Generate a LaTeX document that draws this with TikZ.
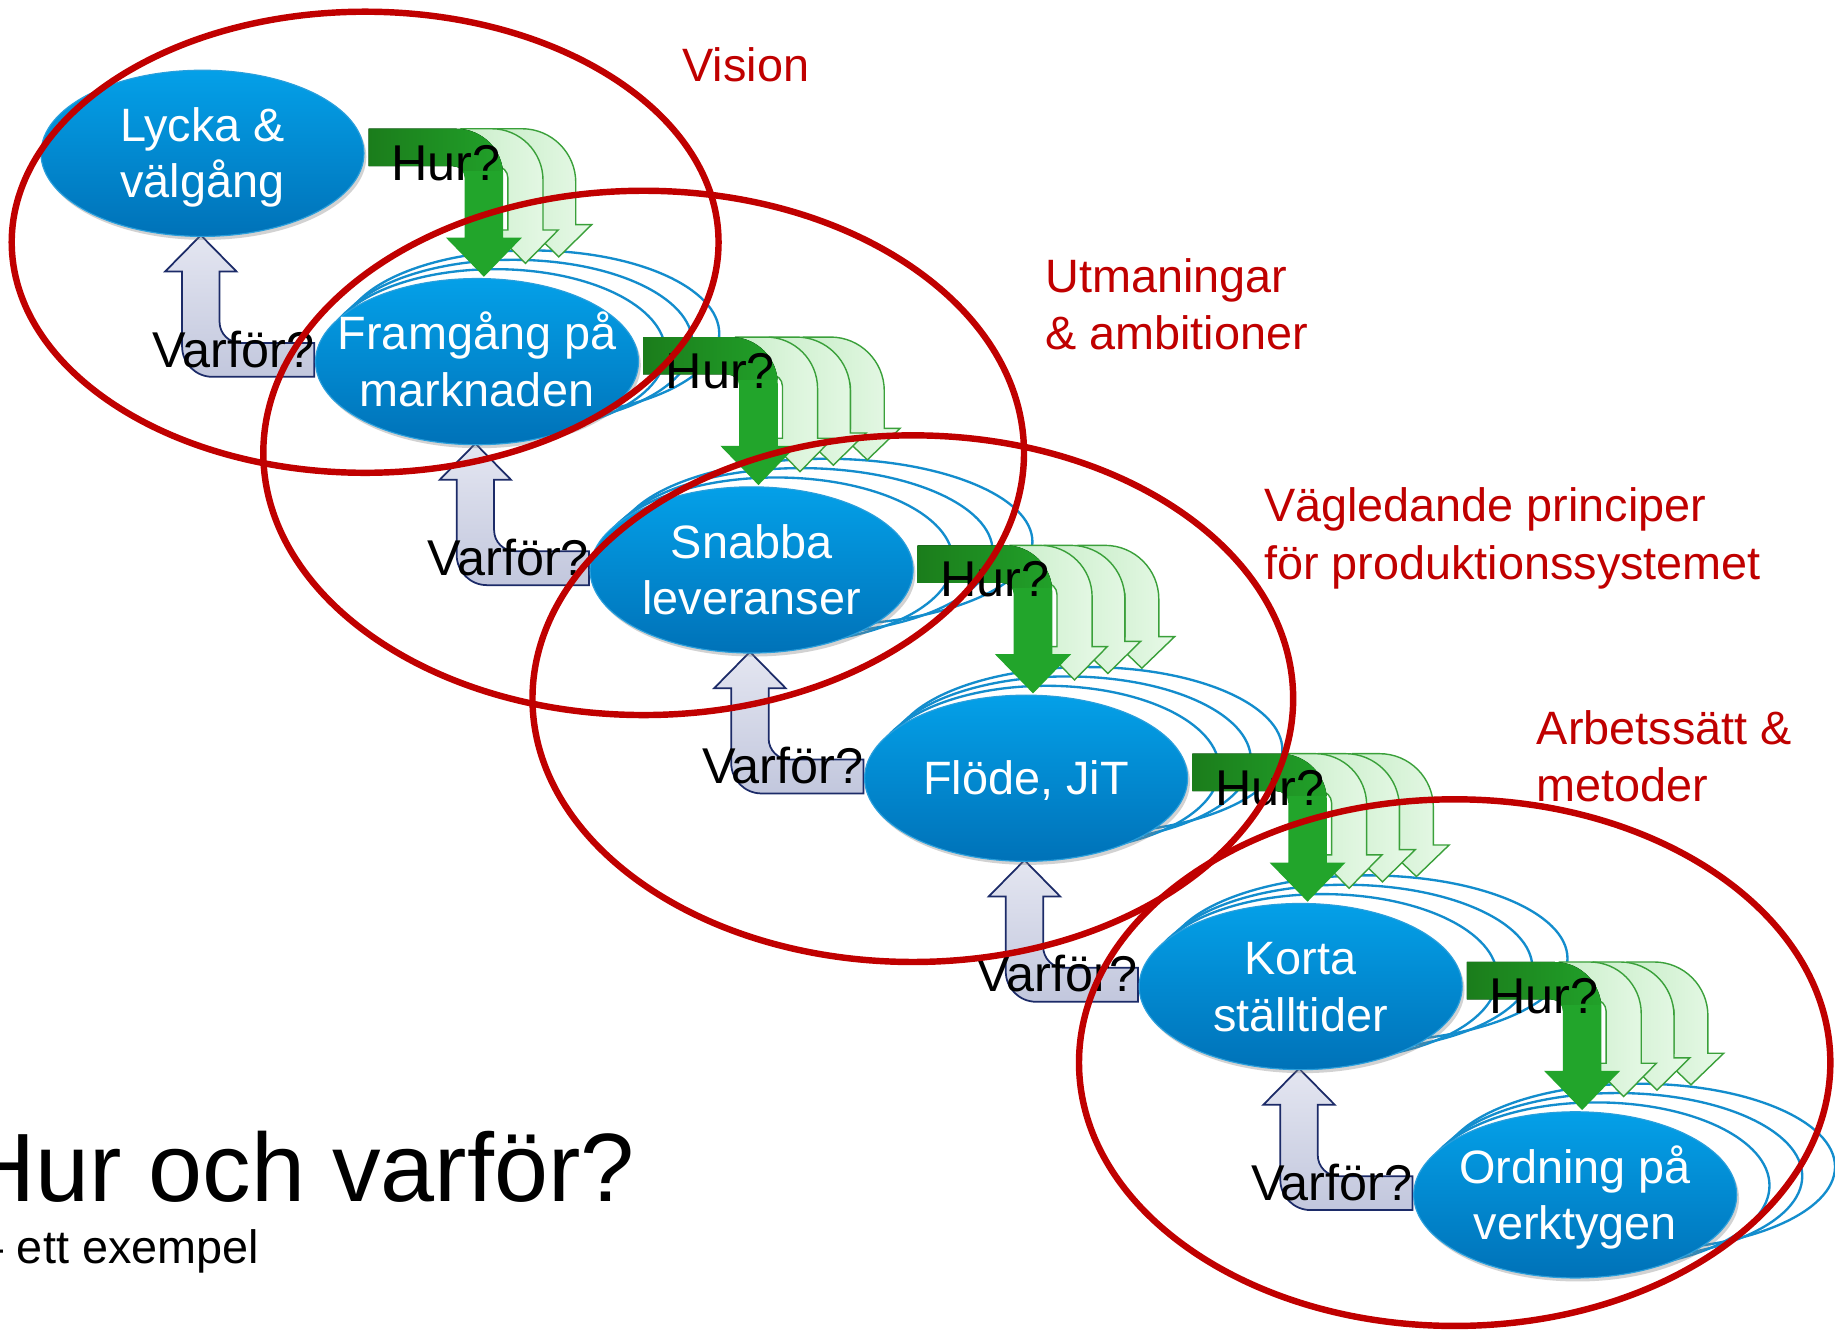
\documentclass[tikz,border=0pt]{standalone}
\usepackage{fontspec}
\setmainfont{Liberation Sans}
\usetikzlibrary{shapes.geometric,shadows}
\pgfdeclarelayer{back}
\pgfdeclarelayer{mid}
\pgfdeclarelayer{front}
\pgfsetlayers{back,mid,main,front}
\definecolor{redc}{HTML}{C00000}
\definecolor{bluetop}{HTML}{04A0E8}
\definecolor{bluebot}{HTML}{0072B8}
\definecolor{bluerim}{HTML}{2A9FDC}
\definecolor{echoblue}{HTML}{138DCD}
\definecolor{hurdark}{HTML}{1B7C1B}
\definecolor{hurbright}{HTML}{22A52B}
\definecolor{copyL}{HTML}{C9EEC9}
\definecolor{copyR}{HTML}{E8F9E8}
\definecolor{copyline}{HTML}{3AA03A}
\definecolor{varfill}{HTML}{E4E6F1}
\definecolor{varfilltwo}{HTML}{C2C7DD}
\definecolor{varline}{HTML}{1C2B68}

% green "Hur?" arrow outline, relative to the upper node
% #1 node, #2 band start x, #3 shaft left x, #4 shaft width, #5 head base y, #6 head half width, #7 tip y
\newcommand\hurshape[7]{%
 ([shift={(#2,-21)}]#1.center) -- ([shift={({#3+#4-\hurRo},-21)}]#1.center)
 .. controls ([shift={({#3+#4-0.448*\hurRo},-21)}]#1.center) and ([shift={({#3+#4},{-21+0.448*\hurRo})}]#1.center) .. ([shift={({#3+#4},{-21+\hurRo})}]#1.center)
 -- ([shift={({#3+#4},#5)}]#1.center) -- ([shift={({#3+#4/2+#6},#5)}]#1.center)
 -- ([shift={({#3+#4/2},#7)}]#1.center) -- ([shift={({#3+#4/2-#6},#5)}]#1.center)
 -- ([shift={(#3,#5)}]#1.center) -- ([shift={(#3,{-21+\hurT+10})}]#1.center)
 .. controls ([shift={(#3,{-21+\hurT+4.48})}]#1.center) and ([shift={({#3-4.48},{-21+\hurT})}]#1.center) .. ([shift={({#3-10},{-21+\hurT})}]#1.center)
 -- ([shift={(#2,{-21+\hurT})}]#1.center) -- cycle}

\newcommand\hurarrow[2]{%
 \ifnum#2>2
   \def\hurT{32}\def\hurRo{46}%
   \path[copyarrow] \hurshape{#1}{279}{319}{29}{57}{28}{84};
 \fi
 \def\hurT{32}\def\hurRo{46}%
 \path[copyarrow] \hurshape{#1}{250}{290}{29}{61}{28}{88.5};
 \def\hurT{32}\def\hurRo{44}%
 \path[copyarrow] \hurshape{#1}{221}{261}{30}{65.5}{28}{94};
 \def\hurT{32}\def\hurRo{40}%
 \fill[hurbright] \hurshape{#1}{142}{224}{33}{72}{32.5}{105.5};
 \begin{scope}
  \clip \hurshape{#1}{142}{224}{33}{72}{32.5}{105.5};
  \fill[left color=hurdark, middle color=hurdark, right color=hurbright] ([shift={(140,-25)}]#1.center) rectangle ([shift={(270,15)}]#1.center);
 \end{scope}}

% "Varför?" arrow outline, relative to the lower node
\newcommand\varpath[1]{%
 ([shift={(-236,-108)}]#1.center) -- ([shift={(-205.5,-77)}]#1.center) -- ([shift={(-220,-77)}]#1.center)
 -- ([shift={(-220,-34)}]#1.center) .. controls ([shift={(-220,-24)}]#1.center) and ([shift={(-212,-16)}]#1.center) .. ([shift={(-202,-16)}]#1.center)
 -- ([shift={(-139,-16)}]#1.center) -- ([shift={(-139,13)}]#1.center) -- ([shift={(-226,13)}]#1.center)
 .. controls ([shift={(-240.4,13)}]#1.center) and ([shift={(-252,1.4)}]#1.center) .. ([shift={(-252,-13)}]#1.center)
 -- ([shift={(-252,-77)}]#1.center) -- ([shift={(-266.5,-77)}]#1.center) -- cycle}

% stacked outline copies behind a node: shifted up and widened to the right
\newcommand\echoes[2]{%
 \foreach \k in {3,2,1}{%
  \draw[echoline] ([shift={({(#2+4)*\k},{-8*\k})}]#1.center) ellipse [x radius={138+(#2-4)*\k}, y radius=71];}}

\tikzset{
 bluenode/.style={ellipse, minimum width=276pt, minimum height=142pt, inner sep=0pt,
   top color=bluetop, bottom color=bluebot, draw=bluerim, line width=1pt,
   drop shadow={shadow xshift=2pt, shadow yshift=-3pt, opacity=0.35}},
 btext/.style={anchor=base, inner sep=0pt, text=white, font=\fontsize{40}{48}\selectfont},
 qtext/.style={anchor=base, inner sep=0pt, text=black, font=\fontsize{43}{48}\selectfont},
 redlabel/.style={anchor=base west, inner sep=0pt, text=redc, font=\fontsize{40}{48}\selectfont},
 redring/.style={draw=redc, line width=5.5pt},
 echoline/.style={draw=echoblue, line width=2pt},
 copyarrow/.style={left color=copyL, right color=copyR, draw=copyline, line width=1.2pt},
 vararrow/.style={top color=varfill, bottom color=varfilltwo, draw=varline, line width=1.5pt},
}

\begin{document}
\begin{tikzpicture}[x=1pt, y=-1pt]
\useasboundingbox (0,0) rectangle (1568,1138);
\begin{pgfonlayer}{back}
 \fill[white] (0,0) rectangle (1568,1138);
\end{pgfonlayer}

% blue ellipses
\node[bluenode] (A) at (173,131) {};
\node[bluenode] (B) at (407.6,309) {};
\node[bluenode] (C) at (642.2,487) {};
\node[bluenode] (D) at (876.8,665) {};
\node[bluenode] (E) at (1111.4,843) {};
\node[bluenode] (F) at (1346,1021) {};

% ellipse texts
\node[btext] (tA1) at ([shift={(0,-10)}]A.center) {Lycka \&};
\node[btext] (tA2) at ([shift={(0,38)}]A.center) {välgång};
\node[btext] (tB1) at ([shift={(0,-10)}]B.center) {Framgång på};
\node[btext] (tB2) at ([shift={(0,38)}]B.center) {marknaden};
\node[btext] (tC1) at ([shift={(0,-10)}]C.center) {Snabba};
\node[btext] (tC2) at ([shift={(0,38)}]C.center) {leveranser};
\node[btext] (tD1) at ([shift={(0,14)}]D.center) {Flöde, JiT};
\node[btext] (tE1) at ([shift={(0,-10)}]E.center) {Korta};
\node[btext] (tE2) at ([shift={(0,38)}]E.center) {ställtider};
\node[btext] (tF1) at ([shift={(0,-10)}]F.center) {Ordning på};
\node[btext] (tF2) at ([shift={(0,38)}]F.center) {verktygen};

% echo outlines behind the lower ellipses
\begin{pgfonlayer}{back}
 \echoes{B}{11.5}
 \echoes{C}{17}
 \echoes{D}{13.5}
 \echoes{E}{15}
 \echoes{F}{14}
\end{pgfonlayer}

% arrows
\begin{pgfonlayer}{mid}
 \path[vararrow] \varpath{B};
 \path[vararrow] \varpath{C};
 \path[vararrow] \varpath{D};
 \path[vararrow] \varpath{E};
 \path[vararrow] \varpath{F};
 \hurarrow{A}{2}
 \hurarrow{B}{3}
 \hurarrow{C}{3}
 \hurarrow{D}{3}
 \hurarrow{E}{3}
\end{pgfonlayer}

% question labels
\node[qtext] (hA) at ([shift={(208,23)}]A.center) {Hur?};
\node[qtext] (hB) at ([shift={(208,23)}]B.center) {Hur?};
\node[qtext] (hC) at ([shift={(208,23)}]C.center) {Hur?};
\node[qtext] (hD) at ([shift={(208,23)}]D.center) {Hur?};
\node[qtext] (hE) at ([shift={(208,23)}]E.center) {Hur?};
\node[qtext] (vB) at ([shift={(-208,4.6)}]B.center) {Varför?};
\node[qtext] (vC) at ([shift={(-208,4.6)}]C.center) {Varför?};
\node[qtext] (vD) at ([shift={(-208,4.6)}]D.center) {Varför?};
\node[qtext] (vE) at ([shift={(-208,4.6)}]E.center) {Varför?};
\node[qtext] (vF) at ([shift={(-208,4.6)}]F.center) {Varför?};

\begin{pgfonlayer}{front}
 % red rings
 \draw[redring] (312,207) ellipse [x radius=302, y radius=197];
 \draw[redring] (550,387) ellipse [x radius=325, y radius=224];
 \draw[redring] (780,597) ellipse [x radius=325, y radius=225];
 \draw[redring] (1243,908) ellipse [x radius=321, y radius=225];
 % red labels
 \node[redlabel] (l1) at (583,70) {Vision};
 \node[redlabel] (l2a) at (893,250) {Utmaningar};
 \node[redlabel] (l2b) at (893,299) {\& ambitioner};
 \node[redlabel] (l3a) at (1080,446) {Vägledande principer};
 \node[redlabel] (l3b) at (1080,495) {för produktionssystemet};
 \node[redlabel] (l4a) at (1313,636) {Arbetssätt \&};
 \node[redlabel] (l4b) at (1313,685) {metoder};
 % title, cut at the left edge as in the reference
 \begin{scope}
  \clip (0,0) rectangle (1568,1138);
  \node[anchor=base west, inner sep=0pt, font=\fontsize{83}{83}\selectfont] (title) at (-30,1027) {Hur och varför?};
  \node[anchor=base west, inner sep=0pt, font=\fontsize{40}{48}\selectfont] (subtitle) at (-19,1080) {– ett exempel};
 \end{scope}
\end{pgfonlayer}
\end{tikzpicture}
\end{document}
